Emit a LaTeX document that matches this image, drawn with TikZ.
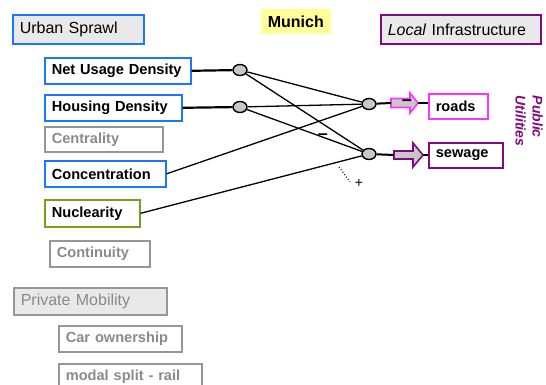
\documentclass[tikz,border=0pt]{standalone}
\usepackage{fontspec}
\setmainfont{Liberation Sans}
\usetikzlibrary{shapes.geometric}

\definecolor{cblue}{RGB}{25,120,255}
\definecolor{cgreen}{RGB}{115,160,30}
\definecolor{cgreyline}{RGB}{150,150,150}
\definecolor{cgreytext}{RGB}{138,138,138}
\definecolor{cpanel}{RGB}{233,233,233}
\definecolor{cpurple}{RGB}{128,10,128}
\definecolor{cmagenta}{RGB}{255,50,255}
\definecolor{cyellow}{RGB}{255,255,153}
\definecolor{cknot}{RGB}{200,200,200}

\tikzset{
  box/.style={draw, line width=1.6pt, anchor=north west, inner xsep=7pt, inner ysep=0pt,
    align=left, font=\fontsize{14.6}{16}\selectfont\bfseries},
  heading/.style={box, font=\fontsize{16}{18}\selectfont, fill=cpanel},
  bluebox/.style={box, draw=cblue},
  greenbox/.style={box, draw=cgreen},
  greybox/.style={box, draw=cgreyline, text=cgreytext},
  knot/.style={ellipse, draw, fill=cknot, line width=1.4pt, minimum width=14pt,
    minimum height=11pt, inner sep=0pt},
  link/.style={line width=1.3pt},
  feed/.style={line width=2.2pt},
  stub/.style={line width=2pt},
  sign/.style={font=\fontsize{18}{18}\selectfont\bfseries, inner sep=0pt},
  outarrow/.style={fill=cknot, line width=1.6pt, line join=miter},
}

\begin{document}
\begin{tikzpicture}[x=1pt, y=-1pt]
\useasboundingbox (0,0) rectangle (546,385);

% headings
\node[heading, draw=cblue, minimum width=131pt, minimum height=29pt, text width=117pt] (sprawl) at (12,14) {Urban Sprawl};
\node[heading, draw=cgreyline, text=cgreytext, minimum width=153pt, minimum height=27pt, text width=139pt] (mobility) at (13,287) {Private Mobility};
\node[heading, draw=cpurple, minimum width=160pt, minimum height=29pt, text width=146pt] (infra) at (380,14) {\textit{Local} Infrastructure};
\node[box, draw=none, fill=cyellow, font=\fontsize{16}{18}\selectfont\bfseries, minimum width=70pt, minimum height=25pt, text width=56pt] (city) at (260,8) {Munich};

% indicator boxes
\node[bluebox, minimum width=146pt, minimum height=26pt, text width=132pt] (nud) at (44,57) {Net Usage Density};
\node[bluebox, minimum width=137pt, minimum height=26pt, text width=123pt] (hd) at (44,94) {Housing Density};
\node[greybox, minimum width=118pt, minimum height=25pt, text width=104pt] (cen) at (44,126) {Centrality};
\node[bluebox, minimum width=121pt, minimum height=26pt, text width=107pt] (conc) at (44,160) {Concentration};
\node[greenbox, minimum width=95pt, minimum height=27pt, text width=81pt] (nuc) at (44,199) {Nuclearity};
\node[greybox, minimum width=100pt, minimum height=26pt, text width=86pt] (cont) at (49,240) {Continuity};
\node[greybox, minimum width=123pt, minimum height=26pt, text width=109pt] (car) at (58,325) {Car ownership};
\node[greybox, minimum width=143pt, minimum height=26pt, text width=129pt] (rail) at (58,363) {modal split - rail};

% output boxes
\node[box, draw=cmagenta, minimum width=59pt, minimum height=25pt, text width=45pt] (roads) at (428,93) {roads};
\node[box, draw=cpurple, minimum width=74pt, minimum height=25pt, text width=60pt] (sewage) at (428,142) {sewage};

\node[rotate=-90, font=\fontsize{14}{17}\selectfont\bfseries\itshape, text=cpurple, align=left] (utilities) at (529,121) {Public\\Utilities};

% junctions
\node[knot] (j1) at (240,70) {};
\node[knot] (j2) at (240,107) {};
\node[knot] (j3) at (369,104) {};
\node[knot] (j4) at (369,154) {};

% inputs to the first layer
\draw[feed] (nud.east) -- (j1);
\draw[feed] (hd.east) -- (j2);

% cross links
\draw[link] (j1) -- (j3);
\draw[link] (j1) -- (j4);
\draw[link] (j2) -- (j3);
\draw[link] (j2) -- (j4);
\draw[link] (conc.east) -- (j3);
\draw[link] (nuc.east) -- (j4);

% output arrows
\coordinate (a1tail) at (391,103);
\coordinate (a1tip) at (418,103);
\draw[outarrow, draw=cmagenta] (391,98.5) -- (410,98.5) -- (410,93) -- (a1tip) -- (410,113) -- (410,107.5) -- (391,107.5) -- cycle;
\node[sign] (neg1) at (407,103) {–};
\draw[stub] (j3) -- (a1tail);
\draw[stub] (a1tip) -- (a1tip -| roads.west);

\coordinate (a2tail) at (394,155);
\coordinate (a2tip) at (423,155);
\draw[outarrow, draw=cpurple] (394,151) -- (413,151) -- (413,143) -- (a2tip) -- (413,167) -- (413,159) -- (394,159) -- cycle;
\draw[stub] (j4) -- (a2tail);
\draw[stub] (a2tip) -- (a2tip -| sewage.west);

% signs
\node[sign] (neg2) at (323,137) {–};
\coordinate (d1) at (339,167);
\coordinate (d2) at (350,182);
\draw[dotted, line width=1pt] (d1) -- (d2);
\node[font=\fontsize{14}{15}\selectfont, inner sep=0pt] (pos) at (359,183) {+};
\end{tikzpicture}
\end{document}
